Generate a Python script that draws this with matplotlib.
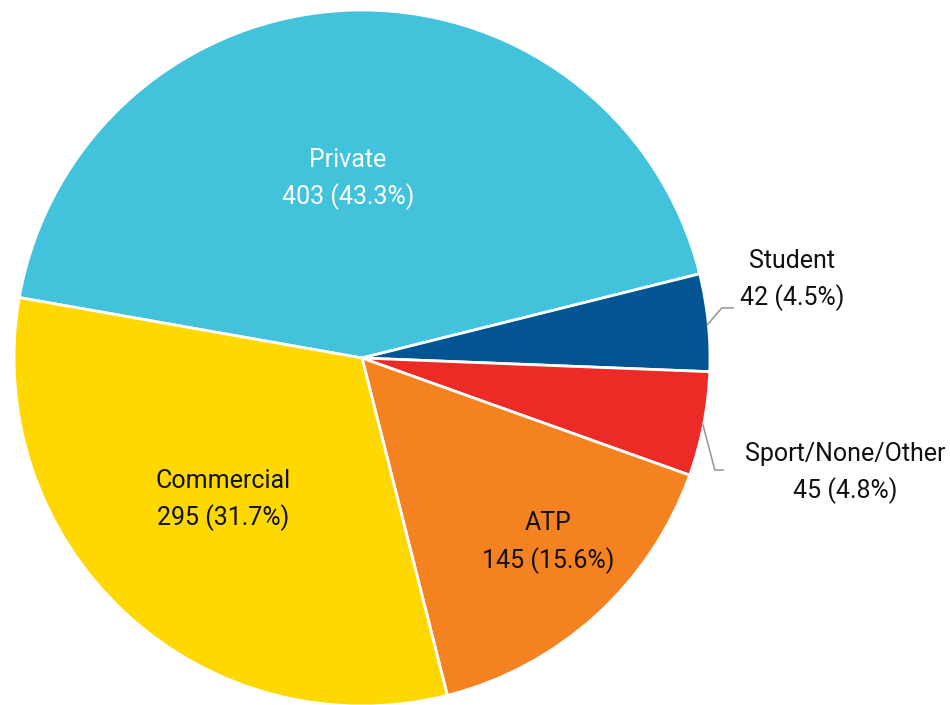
import matplotlib

matplotlib.use("Agg")
import matplotlib.pyplot as plt

# Pilot certificate breakdown
categories = ["Private", "Student", "Sport/None/Other", "ATP", "Commercial"]
counts = [403, 42, 45, 145, 295]
colors = ["#42C3DB", "#035493", "#EC2A26", "#F48220", "#FFD800"]
text_colors = ["white", "#111111", "#111111", "#111111", "#111111"]

# label anchor (x, y) in pie units; outside labels get a leader line
label_xy = [(-0.04, 0.514), (1.236, 0.224), (1.388, -0.33), (0.535, -0.53), (-0.40, -0.408)]
leaders = {
    1: [(0.992, 0.095), (1.034, 0.144), (1.066, 0.144)],
    2: [(0.98, -0.193), (1.014, -0.322), (1.037, -0.322)],
}

plt.rcParams["font.family"] = ["Roboto", "DejaVu Sans"]

fig = plt.figure(figsize=(9.5, 7.05), dpi=100)
cx, cy, r = 362, 358, 348
ax = fig.add_axes([(cx - r) / 950, (705 - cy - r) / 705, 2 * r / 950, 2 * r / 705])

ax.pie(
    counts,
    colors=colors,
    startangle=170,
    counterclock=False,
    radius=1,
    wedgeprops={"edgecolor": "white", "linewidth": 2.0},
)
ax.set_xlim(-1, 1)
ax.set_ylim(-1, 1)
ax.set_aspect("equal")
ax.axis("off")

total = sum(counts)
for i, (name, n) in enumerate(zip(categories, counts)):
    x, y = label_xy[i]
    ax.text(
        x, y, f"{name}\n{n} ({n / total:.1%})",
        ha="center", va="center", fontsize=18, color=text_colors[i],
        linespacing=1.55, clip_on=False,
    )

for pts in leaders.values():
    xs, ys = zip(*pts)
    ax.plot(xs, ys, color="#9a9a9a", lw=1.2, clip_on=False)

fig.savefig("out.png", dpi=100)
